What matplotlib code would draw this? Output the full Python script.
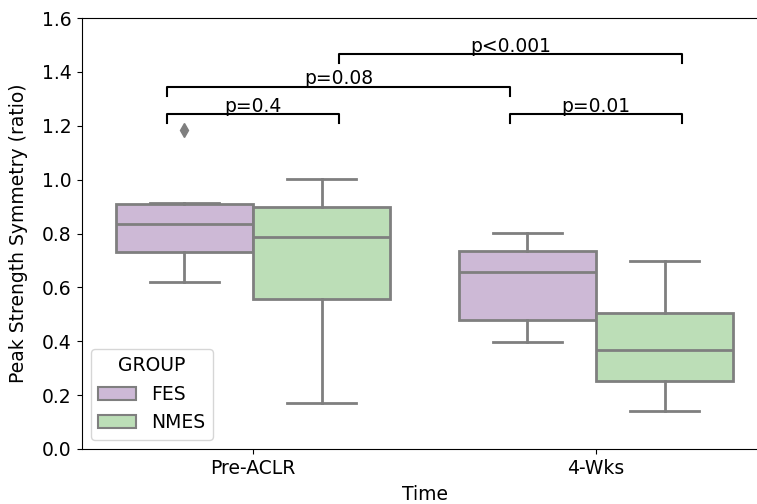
import matplotlib
matplotlib.use("Agg")
import matplotlib.pyplot as plt
from matplotlib.patches import Patch

plt.rcParams['font.family'] = 'DejaVu Sans'
plt.rcParams['font.size'] = 13.5

# data (box summary stats)
times = ['Pre-ACLR', '4-Wks']
groups = ['FES', 'NMES']
colors = ['#cdb9d6', '#bcdeb7']
line_gray = '#7f7f7f'

whislo = [[0.621, 0.170], [0.398, 0.141]]
q1 = [[0.732, 0.557], [0.479, 0.252]]
med = [[0.834, 0.788], [0.658, 0.367]]
q3 = [[0.910, 0.899], [0.735, 0.504]]
whishi = [[0.915, 1.001], [0.803, 0.698]]
fliers = [[[1.183], []], [[], []]]

# significance brackets: (x1, x2, y, label)
brackets_x1 = [-0.25, -0.25, 0.25, 0.75]
brackets_x2 = [0.25, 0.75, 1.25, 1.25]
brackets_y = [1.242, 1.344, 1.465, 1.242]
brackets_lbl = ['p=0.4', 'p=0.08', 'p<0.001', 'p=0.01']

fig = plt.figure(figsize=(7.57, 5.04), dpi=100)
ax = fig.add_axes([81.5 / 757, 55 / 504, 686 / 757, 431 / 504])

width = 0.4
for i, t in enumerate(times):
    for j, g in enumerate(groups):
        pos = i + (j - 0.5) * width
        stats = [dict(whislo=whislo[i][j], q1=q1[i][j], med=med[i][j],
                      q3=q3[i][j], whishi=whishi[i][j], fliers=fliers[i][j])]
        ax.bxp(stats, positions=[pos], widths=width, capwidths=width / 2,
               patch_artist=True, manage_ticks=False,
               boxprops=dict(facecolor=colors[j], edgecolor=line_gray, linewidth=2),
               medianprops=dict(color=line_gray, linewidth=2),
               whiskerprops=dict(color=line_gray, linewidth=2),
               capprops=dict(color=line_gray, linewidth=2),
               flierprops=dict(marker='d', markerfacecolor=line_gray,
                               markeredgecolor=line_gray, markersize=7))

tick_h = 0.033
for x1, x2, y, lbl in zip(brackets_x1, brackets_x2, brackets_y, brackets_lbl):
    ax.plot([x1, x1, x2, x2], [y - tick_h, y, y, y - tick_h], color='black', lw=1.5)
    ax.text((x1 + x2) / 2, y - 0.005, lbl, ha='center', va='bottom')

ax.set_xlim(-0.5, 1.5)
ax.set_ylim(0, 1.6)
ax.set_xticks(range(len(times)))
ax.set_xticklabels(times)
ax.set_yticks([0.0, 0.2, 0.4, 0.6, 0.8, 1.0, 1.2, 1.4, 1.6])
ax.set_xlabel('Time', labelpad=5)
ax.set_ylabel('Peak Strength Symmetry (ratio)', labelpad=10)

handles = [Patch(facecolor=c, edgecolor=line_gray, linewidth=1.5) for c in colors]
ax.legend(handles, groups, title='GROUP', loc='lower left')

fig.savefig('out.png', dpi=100)
